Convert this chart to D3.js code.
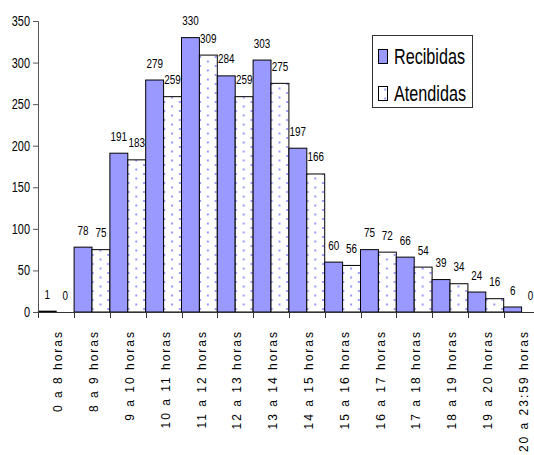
<!DOCTYPE html>
<html>
<head>
<meta charset="utf-8">
<script src="https://cdn.jsdelivr.net/npm/d3@7"></script>
<style>
  html, body { margin: 0; padding: 0; background: #fff; }
  svg { display: block; font-family: "Liberation Sans", Arial, sans-serif; }
</style>
</head>
<body>
<svg id="chart" width="534" height="455"></svg>
<script>
const categories = ["0 a 8 horas", "8 a 9 horas", "9 a 10 horas", "10 a 11 horas", "11 a 12 horas",
  "12 a 13 horas", "13 a 14 horas", "14 a 15 horas", "15 a 16 horas", "16 a 17 horas",
  "17 a 18 horas", "18 a 19 horas", "19 a 20 horas", "20 a 23:59 horas"];
const recibidas = [1, 78, 191, 279, 330, 284, 303, 197, 60, 75, 66, 39, 24, 6];
const atendidas = [0, 75, 183, 259, 309, 259, 275, 166, 56, 72, 54, 34, 16, 0];
const seriesNames = ["Recibidas", "Atendidas"];
const yTicks = [0, 50, 100, 150, 200, 250, 300, 350];

const svg = d3.select("#chart");
const defs = svg.append("defs");
const pat = defs.append("pattern").attr("id", "dots")
  .attr("patternUnits", "userSpaceOnUse").attr("width", 15.6).attr("height", 9);
pat.append("rect").attr("width", 15.6).attr("height", 9).attr("fill", "#fff");
pat.append("rect").attr("x", 2).attr("y", 2).attr("width", 2).attr("height", 2).attr("fill", "#9999ff");
pat.append("rect").attr("x", 9.8).attr("y", 6.5).attr("width", 2).attr("height", 2).attr("fill", "#9999ff");

const x = d3.scaleBand().domain(categories).range([38.3, 539.5]).padding(0);
const xs = d3.scaleBand().domain(seriesNames).range([0, x.bandwidth()]).padding(0);
const y = d3.scaleLinear().domain([0, 350]).range([312, 21]);

const fills = { Recibidas: "#9999ff", Atendidas: "url(#dots)" };
const data = categories.map((c, i) => ({ c, vals: [
  { s: "Recibidas", v: recibidas[i] }, { s: "Atendidas", v: atendidas[i] }] }));

// bars
const g = svg.append("g");
const groups = g.selectAll("g.cat").data(data).join("g")
  .attr("class", "cat").attr("transform", d => `translate(${x(d.c)},0)`);
groups.selectAll("rect").data(d => d.vals.filter(e => e.v > 0)).join("rect")
  .attr("x", d => xs(d.s))
  .attr("y", d => y(d.v))
  .attr("width", xs.bandwidth())
  .attr("height", d => y(0) - y(d.v))
  .attr("fill", d => fills[d.s])
  .attr("stroke", "#000").attr("stroke-width", 1);

// value labels
groups.selectAll("text").data(d => d.vals).join("text")
  .attr("transform", d => `translate(${xs(d.s) + xs.bandwidth() / 2},${y(d.v) - 12.5}) scale(0.76,1)`)
  .attr("text-anchor", "middle")
  .attr("font-size", 13)
  .attr("fill", "#000")
  .text(d => d.v);

// y axis
const yAxis = d3.axisLeft(y).tickValues(yTicks).tickSize(5).tickPadding(3);
const ya = svg.append("g").attr("transform", "translate(38,0)").call(yAxis);
ya.select(".domain").attr("stroke", "#555");
ya.selectAll(".tick line").attr("stroke", "#555");
ya.selectAll(".tick text").attr("font-size", 14).attr("fill", "#000")
  .attr("font-family", "Liberation Sans, Arial, sans-serif")
  .each(function() {
    const t = d3.select(this);
    const xx = +t.attr("x");
    t.attr("x", null).attr("transform", `translate(${xx},0) scale(0.78,1)`);
  });

// x axis
const xAxis = d3.axisBottom(x).tickSize(5).tickFormat("");
const xa = svg.append("g").attr("transform", "translate(0,312)").call(xAxis);
xa.select(".domain").attr("stroke", "#333").attr("d", "M38,0.5H534");
xa.selectAll(".tick").remove();
// ticks at category boundaries
xa.selectAll("line.bt").data(categories).join("line").attr("class", "bt")
  .attr("x1", d => Math.round(x(d)) + 0.5).attr("x2", d => Math.round(x(d)) + 0.5)
  .attr("y1", 0).attr("y2", 6).attr("stroke", "#333");

// x labels rotated
svg.append("g").selectAll("text").data(categories).join("text")
  .attr("transform", d => `translate(${x(d) + x.bandwidth() / 2 + 2},330) rotate(-90)`)
  .attr("text-anchor", "end")
  .attr("dy", "0.35em")
  .attr("font-size", 12)
  .attr("letter-spacing", 2)
  .attr("fill", "#000")
  .text(d => d);

// legend
const lg = svg.append("g");
lg.append("rect").attr("x", 372.5).attr("y", 35.5).attr("width", 100).attr("height", 72)
  .attr("fill", "#fff").attr("stroke", "#333");
const items = lg.selectAll("g.item").data(seriesNames).join("g").attr("class", "item")
  .attr("transform", (d, i) => `translate(0,${i * 37})`);
items.append("rect").attr("x", 378.5).attr("y", 49.5).attr("width", 9).attr("height", 14)
  .attr("fill", d => fills[d]).attr("stroke", "#000");
items.append("text").attr("x", 394).attr("y", 63.5)
  .attr("font-size", 22).attr("fill", "#000")
  .attr("textLength", d => d === "Recibidas" ? 71 : 72).attr("lengthAdjust", "spacingAndGlyphs")
  .text(d => d);
</script>
</body>
</html>
